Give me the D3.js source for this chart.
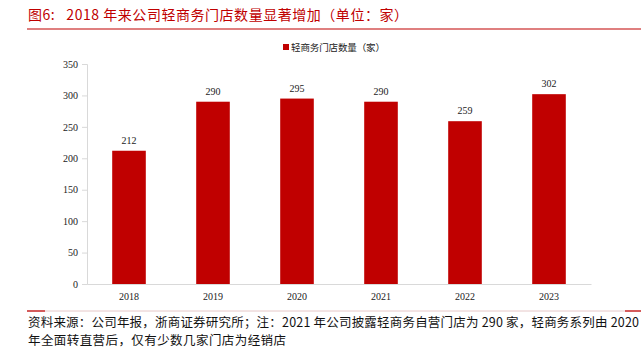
<!DOCTYPE html>
<html><head><meta charset="utf-8">
<script src="https://cdn.jsdelivr.net/npm/d3@7"></script>
<style>body{margin:0;background:#fff;}svg{display:block;}text{white-space:pre;}</style>
</head><body>
<script>
const categories = ["2018","2019","2020","2021","2022","2023"];
const values = [212,290,295,290,259,302];
const yTicks = [0,50,100,150,200,250,300,350];
const seriesName = "轻商务门店数量（家）";
const titleText = "图6:   2018 年来公司轻商务门店数量显著增加（单位：家）";
const note1 = "资料来源：公司年报，浙商证券研究所；注：2021 年公司披露轻商务自营门店为 290 家，轻商务系列由 2020";
const note2 = "年全面转直营后，仅有少数几家门店为经销店";

const W = 641, H = 349;
const red = "#C00000";
const serif = "'Liberation Serif','Times New Roman',serif";
const cjk = "'Noto Sans CJK SC','Noto Sans',sans-serif";

const svg = d3.select("body").append("svg").attr("width", W).attr("height", H);

// title
svg.append("text").attr("x", 28).attr("y", 20).attr("fill", red)
  .attr("font-family", cjk).attr("font-size", 14).attr("xml:space", "preserve")
  .attr("textLength", 380).attr("lengthAdjust", "spacing").text(titleText);
svg.append("line").attr("x1", 27).attr("x2", W).attr("y1", 29).attr("y2", 29)
  .attr("stroke", red).attr("stroke-width", 1.2);

const x = d3.scaleBand().domain(categories).range([87, 591]).paddingInner(0.6).paddingOuter(0.3);
const y = d3.scaleLinear().domain([0, 350]).range([284, 64]);

// y axis
const yAxis = svg.append("g").attr("transform", "translate(87,0)")
  .call(d3.axisLeft(y).tickValues(yTicks).tickSize(5).tickPadding(4).tickFormat(d3.format("d")));
yAxis.select(".domain").attr("stroke", "#d9d9d9");
yAxis.selectAll(".tick line").attr("stroke", "#d9d9d9");
yAxis.selectAll(".tick text").attr("font-family", serif).attr("font-size", 10).attr("fill", "#222");

// x axis
const xAxis = svg.append("g").attr("transform", "translate(0,284)")
  .call(d3.axisBottom(x).tickSize(0).tickPadding(9).tickSizeOuter(0));
xAxis.select(".domain").attr("stroke", "#d9d9d9");
xAxis.selectAll(".tick text").attr("font-family", serif).attr("font-size", 10).attr("fill", "#222");

// bars
svg.append("g").selectAll("rect").data(values).join("rect")
  .attr("x", (d, i) => x(categories[i]))
  .attr("y", d => y(d))
  .attr("width", x.bandwidth())
  .attr("height", d => y(0) - y(d))
  .attr("fill", red);

svg.append("g").selectAll("text").data(values).join("text")
  .attr("x", (d, i) => x(categories[i]) + x.bandwidth() / 2)
  .attr("y", d => y(d) - 7)
  .attr("text-anchor", "middle")
  .attr("font-family", serif).attr("font-size", 10).attr("fill", "#222")
  .text(d => d);

// legend
svg.append("rect").attr("x", 283).attr("y", 44).attr("width", 6).attr("height", 6).attr("fill", red);
svg.append("text").attr("x", 291).attr("y", 51).attr("font-family", cjk).attr("font-size", 9.5)
  .attr("fill", "#222").attr("textLength", 94).attr("lengthAdjust", "spacing").text(seriesName);

// bottom line
svg.append("line").attr("x1", 27).attr("x2", W).attr("y1", 311).attr("y2", 311)
  .attr("stroke", "#e6c8c8").attr("stroke-width", 1);
svg.append("line").attr("x1", 27).attr("x2", 45).attr("y1", 311).attr("y2", 311)
  .attr("stroke", red).attr("stroke-width", 1.2);
svg.append("line").attr("x1", 625).attr("x2", W).attr("y1", 311).attr("y2", 311)
  .attr("stroke", red).attr("stroke-width", 1.2);

// notes
svg.append("text").attr("x", 28).attr("y", 327).attr("font-family", cjk).attr("font-size", 12.5)
  .attr("fill", "#111").attr("textLength", 611).attr("lengthAdjust", "spacing").text(note1);
svg.append("text").attr("x", 28).attr("y", 345).attr("font-family", cjk).attr("font-size", 12.5)
  .attr("fill", "#111").attr("textLength", 258).attr("lengthAdjust", "spacing").text(note2);
</script>
</body></html>
